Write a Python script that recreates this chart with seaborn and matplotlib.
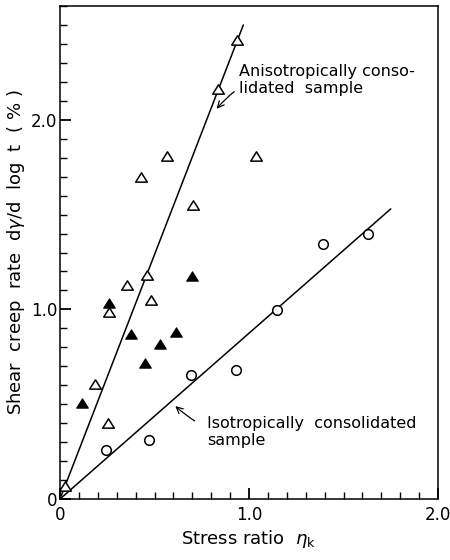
import numpy as np
import pandas as pd
import matplotlib
matplotlib.use("Agg")
import matplotlib.pyplot as plt
from matplotlib.path import Path
from matplotlib.ticker import MultipleLocator, FixedLocator
import seaborn as sns

# Anisotropically consolidated samples (open triangles)
aniso_open_x = [0.937, 0.836, 0.565, 0.429, 1.037, 0.705, 0.353, 0.459, 0.480, 0.259, 0.185, 0.256, 0.025]
aniso_open_y = [2.42, 2.16, 1.81, 1.70, 1.81, 1.55, 1.13, 1.18, 1.047, 0.985, 0.605, 0.40, 0.07]

# Anisotropically consolidated samples (filled triangles)
aniso_filled_x = [0.259, 0.697, 0.376, 0.614, 0.529, 0.450, 0.115]
aniso_filled_y = [1.033, 1.174, 0.87, 0.879, 0.815, 0.715, 0.508]

# Isotropically consolidated samples (open circles)
iso_x = [0.243, 0.473, 0.693, 0.931, 1.150, 1.393, 1.631]
iso_y = [0.26, 0.31, 0.654, 0.68, 0.999, 1.347, 1.397]

# Fitted lines through the origin
aniso_line_x = [0.0, 0.97]
aniso_line_y = [0.0, 2.50]
iso_line_x = [0.0, 1.75]
iso_line_y = [0.0, 1.53]

x_ticks = [0.0, 1.0, 2.0]
x_ticklabels = ["0", "1.0", "2.0"]
y_ticks = [0.0, 1.0, 2.0]
y_ticklabels = ["0", "1.0", "2.0"]

sns.set_theme(style="ticks")
plt.rcParams["font.family"] = ["DejaVu Sans"]

fig = plt.figure(figsize=(4.5, 5.6), dpi=100)
ax = fig.add_axes([60 / 450, 1 - 499 / 560, 378 / 450, 493 / 560])

# slightly flattened triangle marker
tri = Path([(-1.0, -0.8), (1.0, -0.8), (0.0, 0.8), (-1.0, -0.8)],
           [Path.MOVETO, Path.LINETO, Path.LINETO, Path.CLOSEPOLY])

lines = pd.concat([
    pd.DataFrame({"x": aniso_line_x, "y": aniso_line_y, "fit": "aniso"}),
    pd.DataFrame({"x": iso_line_x, "y": iso_line_y, "fit": "iso"}),
])
sns.lineplot(data=lines, x="x", y="y", units="fit", estimator=None,
             color="black", linewidth=1.1, ax=ax, legend=False, sort=False)

sns.scatterplot(x=aniso_open_x, y=aniso_open_y, marker=tri, s=70,
                facecolor="white", edgecolor="black", linewidth=1.1, ax=ax, zorder=3)
sns.scatterplot(x=aniso_filled_x, y=aniso_filled_y, marker=tri, s=70,
                color="black", edgecolor="black", linewidth=0.8, ax=ax, zorder=3)
sns.scatterplot(x=iso_x, y=iso_y, marker="o", s=48,
                facecolor="white", edgecolor="black", linewidth=1.1, ax=ax, zorder=3)

ax.set_xlim(0, 2.0)
ax.set_ylim(0, 2.6)

for side in ["top", "right", "left", "bottom"]:
    ax.spines[side].set_visible(True)
    ax.spines[side].set_color("black")
    ax.spines[side].set_linewidth(1.1)

ax.xaxis.set_major_locator(FixedLocator(x_ticks))
ax.yaxis.set_major_locator(FixedLocator(y_ticks))
ax.xaxis.set_minor_locator(MultipleLocator(0.1))
ax.yaxis.set_minor_locator(MultipleLocator(0.1))
ax.set_xticklabels(x_ticklabels)
ax.set_yticklabels(y_ticklabels)
ax.tick_params(which="both", direction="in", color="black", top=False, right=False)
ax.tick_params(which="major", length=8, width=1.3, labelsize=12, labelcolor="black")
ax.tick_params(axis="x", which="major", pad=5)
ax.tick_params(axis="y", which="major", pad=2)
ax.tick_params(which="minor", length=5, width=1.0)

ax.set_xlabel(r"Stress ratio  $\eta_{\rm k}$", fontsize=13, color="black", labelpad=3)
ax.set_ylabel(r"Shear  creep  rate  d$\gamma$/d  log  t  ( % )", fontsize=13,
              color="black", labelpad=3)

ax.annotate("Anisotropically conso-\nlidated  sample",
            xy=(0.829, 2.058), xytext=(0.945, 2.21),
            fontsize=11.5, color="black", ha="left", va="center", linespacing=1.15,
            arrowprops=dict(arrowstyle="->", color="black", lw=0.9,
                            connectionstyle="arc3,rad=0.35", shrinkA=1, shrinkB=0))
ax.annotate("Isotropically  consolidated\nsample",
            xy=(0.610, 0.49), xytext=(0.78, 0.355),
            fontsize=11.5, color="black", ha="left", va="center", linespacing=1.15,
            arrowprops=dict(arrowstyle="->", color="black", lw=0.9,
                            connectionstyle="arc3,rad=-0.3", shrinkA=8, shrinkB=0))

fig.savefig("out.png", dpi=100, facecolor="white")
